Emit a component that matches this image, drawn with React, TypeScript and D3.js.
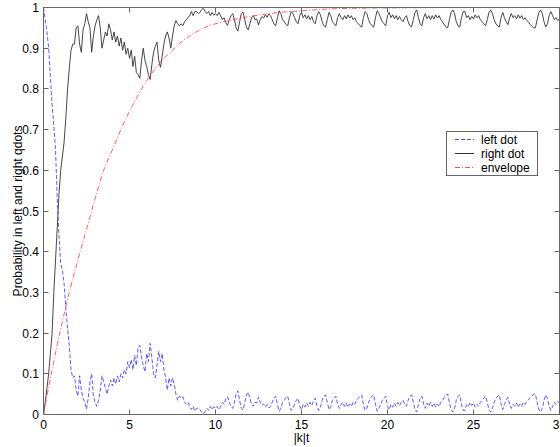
import React, { useEffect, useRef } from "react";
import * as d3 from "d3";

// sampled every 0.1 in |k|t, from 0 to 30
const tStep = 0.1;

const leftDot = [
  1, 0.97, 0.94, 0.9, 0.83, 0.76, 0.71, 0.65, 0.53, 0.44,
  0.37, 0.355, 0.32, 0.26, 0.21, 0.17, 0.11, 0.09, 0.095, 0.06,
  0.045, 0.095, 0.06, 0.04, 0.03, 0.013, 0.04, 0.08, 0.1, 0.045,
  0.03, 0.02, 0.035, 0.06, 0.095, 0.08, 0.065, 0.05, 0.07, 0.085,
  0.07, 0.09, 0.075, 0.095, 0.08, 0.1, 0.09, 0.11, 0.1, 0.13,
  0.115, 0.135, 0.11, 0.145, 0.12, 0.165, 0.17, 0.14, 0.12, 0.105,
  0.15, 0.13, 0.175, 0.14, 0.1, 0.09, 0.12, 0.155, 0.13, 0.15,
  0.11, 0.09, 0.06, 0.09, 0.07, 0.09, 0.075, 0.05, 0.035, 0.045,
  0.04, 0.044, 0.03, 0.025, 0.03, 0.019, 0.012, 0.02, 0.008, 0.015,
  0.016, 0.012, 0.005, 0.002, 0.008, 0.015, 0.01, 0.02, 0.012, 0.019,
  0.015, 0.02, 0.012, 0.02, 0.03, 0.025, 0.038, 0.044, 0.03, 0.02,
  0.015, 0.03, 0.05, 0.058, 0.035, 0.015, 0.011, 0.03, 0.048, 0.055,
  0.04, 0.025, 0.02, 0.03, 0.028, 0.043, 0.03, 0.022, 0.026, 0.018,
  0.024, 0.016, 0.02, 0.03, 0.04, 0.045, 0.025, 0.008, 0.015, 0.03,
  0.035, 0.042, 0.045, 0.025, 0.01, 0.015, 0.025, 0.035, 0.04, 0.02,
  0.012, 0.025, 0.018, 0.028, 0.02, 0.03, 0.022, 0.035, 0.04, 0.02,
  0.01, 0.018, 0.035, 0.045, 0.048, 0.03, 0.012, 0.02, 0.035, 0.04,
  0.045, 0.025, 0.015, 0.025, 0.03, 0.02, 0.028, 0.018, 0.026, 0.02,
  0.03, 0.025, 0.035, 0.04, 0.045, 0.048, 0.025, 0.01, 0.015, 0.03,
  0.04, 0.045, 0.048, 0.025, 0.008, 0.015, 0.025, 0.035, 0.04, 0.045,
  0.02, 0.012, 0.025, 0.018, 0.028, 0.02, 0.03, 0.022, 0.03, 0.035,
  0.025, 0.02, 0.035, 0.045, 0.048, 0.03, 0.012, 0.006, 0.025, 0.04,
  0.045, 0.025, 0.015, 0.028, 0.02, 0.03, 0.02, 0.028, 0.018, 0.026,
  0.02, 0.03, 0.035, 0.042, 0.048, 0.05, 0.03, 0.012, 0.006, 0.015,
  0.035, 0.045, 0.048, 0.025, 0.01, 0.01, 0.025, 0.02, 0.03, 0.022,
  0.028, 0.018, 0.025, 0.02, 0.03, 0.035, 0.04, 0.045, 0.03, 0.012,
  0.006, 0.015, 0.03, 0.04, 0.045, 0.048, 0.025, 0.012, 0.025, 0.035,
  0.042, 0.025, 0.015, 0.025, 0.02, 0.028, 0.018, 0.026, 0.02, 0.03,
  0.025, 0.032, 0.036, 0.042, 0.046, 0.05, 0.05, 0.03, 0.012, 0.006,
  0.015, 0.035, 0.048, 0.04, 0.02, 0.01, 0.02, 0.03, 0.025, 0.032,
  0.028,
];

const rightDot = [
  0, 0.03, 0.065, 0.1, 0.15, 0.2, 0.3, 0.38, 0.46, 0.54,
  0.6, 0.635, 0.67, 0.73, 0.8, 0.85, 0.895, 0.91, 0.91, 0.95,
  0.955, 0.91, 0.89, 0.945, 0.96, 0.985, 0.965, 0.95, 0.89, 0.93,
  0.955, 0.97, 0.98, 0.95, 0.9, 0.92, 0.94, 0.93, 0.96, 0.945,
  0.92, 0.94, 0.915, 0.93, 0.905, 0.925, 0.895, 0.915, 0.885, 0.9,
  0.875, 0.895, 0.855, 0.88, 0.84, 0.835, 0.826, 0.87, 0.9, 0.87,
  0.855, 0.835, 0.823, 0.86, 0.89, 0.905, 0.915, 0.87, 0.853, 0.88,
  0.91, 0.93, 0.94, 0.925, 0.9, 0.93, 0.955, 0.968, 0.96, 0.955,
  0.96, 0.955, 0.965, 0.97, 0.975, 0.98, 0.99, 0.98, 0.99, 0.99,
  0.985, 0.988, 0.995, 0.998, 0.99, 0.985, 0.99, 0.98, 0.988, 0.981,
  0.985, 0.98, 0.988, 0.98, 0.97, 0.975, 0.962, 0.956, 0.97, 0.98,
  0.985, 0.97, 0.95, 0.942, 0.965, 0.985, 0.989, 0.97, 0.952, 0.945,
  0.96, 0.975, 0.98, 0.97, 0.972, 0.957, 0.97, 0.978, 0.974, 0.982,
  0.976, 0.984, 0.98, 0.97, 0.96, 0.955, 0.975, 0.992, 0.985, 0.97,
  0.965, 0.958, 0.955, 0.975, 0.99, 0.985, 0.975, 0.965, 0.96, 0.98,
  0.988, 0.975, 0.982, 0.972, 0.98, 0.97, 0.978, 0.965, 0.96, 0.98,
  0.99, 0.982, 0.965, 0.955, 0.952, 0.97, 0.988, 0.98, 0.965, 0.96,
  0.955, 0.975, 0.985, 0.975, 0.97, 0.98, 0.972, 0.982, 0.974, 0.98,
  0.97, 0.975, 0.965, 0.96, 0.955, 0.952, 0.975, 0.99, 0.985, 0.97,
  0.96, 0.955, 0.952, 0.975, 0.992, 0.985, 0.975, 0.965, 0.96, 0.955,
  0.98, 0.988, 0.975, 0.982, 0.972, 0.98, 0.97, 0.978, 0.97, 0.965,
  0.975, 0.98, 0.965, 0.955, 0.952, 0.97, 0.988, 0.994, 0.975, 0.96,
  0.955, 0.975, 0.985, 0.972, 0.98, 0.97, 0.98, 0.972, 0.982, 0.974,
  0.98, 0.97, 0.965, 0.958, 0.952, 0.95, 0.97, 0.988, 0.994, 0.985,
  0.965, 0.955, 0.952, 0.975, 0.99, 0.99, 0.975, 0.98, 0.97, 0.978,
  0.972, 0.982, 0.975, 0.98, 0.97, 0.965, 0.96, 0.955, 0.97, 0.988,
  0.994, 0.985, 0.97, 0.96, 0.955, 0.952, 0.975, 0.988, 0.975, 0.965,
  0.958, 0.975, 0.985, 0.975, 0.98, 0.972, 0.982, 0.974, 0.98, 0.97,
  0.975, 0.968, 0.964, 0.958, 0.954, 0.95, 0.95, 0.97, 0.988, 0.994,
  0.985, 0.965, 0.952, 0.96, 0.98, 0.99, 0.98, 0.97, 0.975, 0.968,
  0.972,
];

const envelopeT = [0, 0.5, 1, 1.5, 2, 2.5, 3, 3.5, 4, 4.5, 5, 5.5, 6, 6.5, 7, 7.5, 8, 8.5, 9, 9.5, 10, 11, 12, 13, 14, 15, 16, 17, 18, 20, 25, 30];
const envelopeV = [0, 0.11, 0.21, 0.3, 0.38, 0.455, 0.53, 0.6, 0.65, 0.7, 0.745, 0.785, 0.82, 0.85, 0.875, 0.895, 0.915, 0.93, 0.943, 0.953, 0.96, 0.97, 0.978, 0.984, 0.989, 0.992, 0.995, 0.997, 0.998, 0.999, 1, 1];

const xTicks = [0, 5, 10, 15, 20, 25, 30];
const yTicks = [0, 0.1, 0.2, 0.3, 0.4, 0.5, 0.6, 0.7, 0.8, 0.9, 1];
const legendLabels = ["left dot", "right dot", "envelope"];

const W = 560;
const H = 447;
const FONT = "Arial, 'Liberation Sans', Helvetica, sans-serif";

export default function App() {
  const svgRef = useRef<SVGSVGElement>(null);

  useEffect(() => {
    const svg = d3.select(svgRef.current);
    svg.selectAll("*").remove();

    const x = d3.scaleLinear().domain([0, 30]).range([43.5, 559.5]);
    const y = d3.scaleLinear().domain([0, 1]).range([414.5, 7.5]);
    const axisColor = "#666";

    const blue = "#4a4aff";
    const black = "#333";
    const red = "#ff4a4a";

    const g = svg.append("g");

    const line = d3
      .line<number>()
      .x((_, i) => x(i * tStep))
      .y((d) => y(d));

    g.append("path")
      .attr("d", line(rightDot))
      .attr("fill", "none")
      .attr("stroke", black)
      .attr("stroke-width", 0.9);

    g.append("path")
      .attr("d", line(leftDot))
      .attr("fill", "none")
      .attr("stroke", blue)
      .attr("stroke-width", 0.9)
      .attr("stroke-dasharray", "4,2");

    const envLine = d3
      .line<number>()
      .x((_, i) => x(envelopeT[i]))
      .y((d) => y(d))
      .curve(d3.curveMonotoneX);

    g.append("path")
      .attr("d", envLine(envelopeV))
      .attr("fill", "none")
      .attr("stroke", red)
      .attr("stroke-width", 0.9)
      .attr("stroke-dasharray", "5,2,1,2");

    // axes box with inward ticks
    const [x0, x1] = x.range();
    const [y0, y1] = y.range();
    g.append("rect")
      .attr("x", x0)
      .attr("y", y1)
      .attr("width", x1 - x0)
      .attr("height", y0 - y1)
      .attr("fill", "none")
      .attr("stroke", axisColor);

    const tl = 5;
    xTicks.forEach((t) => {
      const px = Math.round(x(t) - 0.5) + 0.5;
      g.append("line").attr("x1", px).attr("x2", px).attr("y1", y0).attr("y2", y0 - tl).attr("stroke", axisColor);
      g.append("line").attr("x1", px).attr("x2", px).attr("y1", y1).attr("y2", y1 + tl).attr("stroke", axisColor);
      g.append("text")
        .attr("x", x(t))
        .attr("y", 429)
        .attr("text-anchor", "middle")
        .attr("font-family", FONT)
        .attr("font-size", 12)
        .text(t);
    });

    yTicks.forEach((t) => {
      const py = Math.round(y(t) - 0.5) + 0.5;
      g.append("line").attr("x1", x0).attr("x2", x0 + tl).attr("y1", py).attr("y2", py).attr("stroke", axisColor);
      g.append("line").attr("x1", x1).attr("x2", x1 - tl).attr("y1", py).attr("y2", py).attr("stroke", axisColor);
      g.append("text")
        .attr("x", 39)
        .attr("y", y(t) + 4.5)
        .attr("text-anchor", "end")
        .attr("font-family", FONT)
        .attr("font-size", 12)
        .text(String(t));
    });

    g.append("text")
      .attr("x", (x0 + x1) / 2)
      .attr("y", 442)
      .attr("text-anchor", "middle")
      .attr("font-family", FONT)
      .attr("font-size", 12)
      .text("|k|t");

    g.append("text")
      .attr("transform", `translate(22,${(y0 + y1) / 2}) rotate(-90)`)
      .attr("text-anchor", "middle")
      .attr("font-family", FONT)
      .attr("font-size", 12)
      .text("Probability in left and right qdots");

    // legend
    const lg = g.append("g");
    lg.append("rect")
      .attr("x", 446.5)
      .attr("y", 131.5)
      .attr("width", 91)
      .attr("height", 44)
      .attr("fill", "#fff")
      .attr("stroke", axisColor);

    const styles = [
      { stroke: blue, dash: "4,2" },
      { stroke: black, dash: null },
      { stroke: red, dash: "5,2,1,2" },
    ];
    legendLabels.forEach((label, i) => {
      const ly = 139.5 + i * 14;
      lg.append("line")
        .attr("x1", 455)
        .attr("x2", 474)
        .attr("y1", ly)
        .attr("y2", ly)
        .attr("stroke", styles[i].stroke)
        .attr("stroke-dasharray", styles[i].dash);
      lg.append("text")
        .attr("x", 481)
        .attr("y", ly + 4)
        .attr("font-family", FONT)
        .attr("font-size", 12)
        .text(label);
    });
  }, []);

  return (
    <svg
      ref={svgRef}
      width={W}
      height={H}
      style={{ position: "fixed", left: 0, top: 0, background: "#fff" }}
    />
  );
}
